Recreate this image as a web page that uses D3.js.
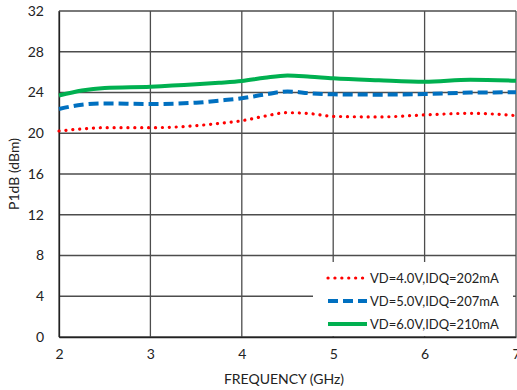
<!DOCTYPE html>
<html>
<head>
<meta charset="utf-8">
<script src="https://cdn.jsdelivr.net/npm/d3@7"></script>
<style>
  body { margin: 0; background: #fff; }
  text { font-family: Lato, "Open Sans", sans-serif; fill: #222; }
</style>
</head>
<body>
<script>
// frequency points (GHz)
var freq = [2, 2.25, 2.5, 3, 3.5, 3.75, 4, 4.25, 4.5, 4.75, 5, 5.5, 6, 6.5, 7];
// P1dB per bias condition (dBm)
var p1dbV4 = [20.22, 20.42, 20.55, 20.55, 20.74, 20.97, 21.23, 21.68, 22.02, 21.92, 21.66, 21.6, 21.8, 21.96, 21.72];
var p1dbV5 = [22.38, 22.8, 22.93, 22.87, 23.0, 23.2, 23.43, 23.8, 24.1, 23.92, 23.82, 23.79, 23.85, 23.99, 24.02];
var p1dbV6 = [23.7, 24.2, 24.45, 24.57, 24.8, 24.95, 25.13, 25.45, 25.68, 25.55, 25.39, 25.2, 25.06, 25.26, 25.16];
var seriesNames = ["VD=4.0V,IDQ=202mA", "VD=5.0V,IDQ=207mA", "VD=6.0V,IDQ=210mA"];
var xTicks = [2, 3, 4, 5, 6, 7];
var yTicks = [0, 4, 8, 12, 16, 20, 24, 28, 32];

var W = 517, H = 390;
var m = {left: 59, right: 1, top: 11, bottom: 53};

var svg = d3.select("body").append("svg").attr("width", W).attr("height", H);

var x = d3.scaleLinear().domain([2, 7]).range([m.left, W - m.right]);
var y = d3.scaleLinear().domain([0, 32]).range([H - m.bottom, m.top]);

// grid
svg.append("g").selectAll("line").data(yTicks).enter().append("line")
  .attr("x1", x(2)).attr("x2", x(7))
  .attr("y1", function(d) { return y(d); }).attr("y2", function(d) { return y(d); })
  .attr("stroke", "#4d4d4d").attr("stroke-width", 1.3);
svg.append("g").selectAll("line").data(xTicks).enter().append("line")
  .attr("y1", y(0)).attr("y2", y(32))
  .attr("x1", function(d) { return x(d); }).attr("x2", function(d) { return x(d); })
  .attr("stroke", "#4d4d4d").attr("stroke-width", 1.3);

// axes (labels only)
var yAxis = svg.append("g").attr("transform", "translate(" + m.left + ",0)")
  .call(d3.axisLeft(y).tickValues(yTicks).tickFormat(d3.format("d")).tickSize(0).tickPadding(15));
var xAxis = svg.append("g").attr("transform", "translate(0," + y(0) + ")")
  .call(d3.axisBottom(x).tickValues(xTicks).tickFormat(d3.format("d")).tickSize(0).tickPadding(12));
[xAxis, yAxis].forEach(function(a) {
  a.select(".domain").attr("stroke", "#222").attr("stroke-width", 1.3);
  a.selectAll("text").attr("font-size", 14).attr("fill", "#222")
    .attr("font-family", "Lato, 'Open Sans', sans-serif");
});

// lines
var line = d3.line()
  .x(function(d) { return x(d[0]); })
  .y(function(d) { return y(d[1]); })
  .curve(d3.curveMonotoneX);

var styles = [
  {color: "#ff0000", width: 3.2, dash: "0.1 6.8", cap: "round"},
  {color: "#0070c0", width: 4, dash: "10 5", cap: "butt"},
  {color: "#00b050", width: 4, dash: null, cap: "butt"}
];
var series = [p1dbV4, p1dbV5, p1dbV6];

series.forEach(function(s, i) {
  svg.append("path")
    .datum(freq.map(function(f, j) { return [f, s[j]]; }))
    .attr("d", line)
    .attr("fill", "none")
    .attr("stroke", styles[i].color)
    .attr("stroke-width", styles[i].width)
    .attr("stroke-linecap", styles[i].cap)
    .attr("stroke-dasharray", styles[i].dash);
});

// legend
var lg = svg.append("g");
lg.append("rect").attr("x", 313).attr("y", 262).attr("width", 200).attr("height", 74).attr("fill", "#fff");
var rows = [278, 301, 324];
seriesNames.forEach(function(n, i) {
  lg.append("line")
    .attr("x1", 328).attr("x2", 367).attr("y1", rows[i]).attr("y2", rows[i])
    .attr("stroke", styles[i].color)
    .attr("stroke-width", styles[i].width)
    .attr("stroke-linecap", styles[i].cap)
    .attr("stroke-dasharray", styles[i].dash);
  lg.append("text").attr("x", 370).attr("y", rows[i]).attr("dy", "0.35em")
    .attr("font-size", 13).text(n);
});

// axis titles
svg.append("text").attr("x", 284).attr("y", 379).attr("dy", "0.35em")
  .attr("text-anchor", "middle").attr("font-size", 14).text("FREQUENCY (GHz)");
svg.append("text").attr("transform", "translate(14,174) rotate(-90)").attr("dy", "0.35em")
  .attr("text-anchor", "middle").attr("font-size", 14).text("P1dB (dBm)");
</script>
</body>
</html>
